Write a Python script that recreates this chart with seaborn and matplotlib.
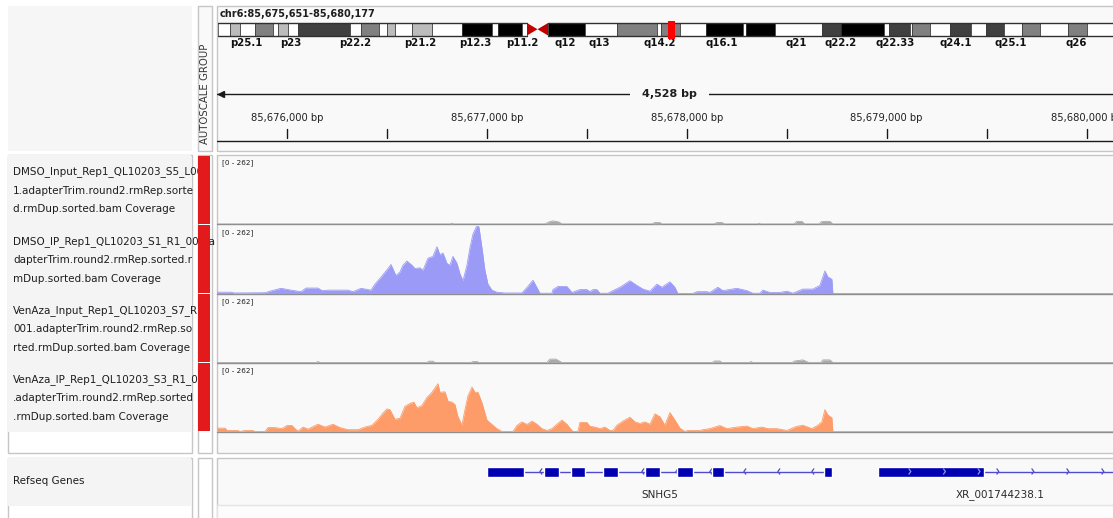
import numpy as np
import pandas as pd
import matplotlib
matplotlib.use("Agg")
import matplotlib.pyplot as plt
import seaborn as sns
from matplotlib.patches import Rectangle, Polygon

sns.set_theme(style="white")
plt.rcParams["font.family"] = ["DejaVu Sans"]

# ---------------- data ----------------
chrom_label = "chr6:85,675,651-85,680,177"
VIEW_START, VIEW_END = 85675651, 85680177
ruler_label = "4,528 bp"
CHROM_LEN_MB = 171.1

band_starts = [0, 2.27, 4.16, 6.99, 10.39, 11.34, 13.22, 15.11, 24.94, 27.02, 30.42, 31.93, 33.44,
               36.65, 40.43, 46.10, 51.77, 52.90, 57.43, 62.35, 69.34, 75.39, 82.94, 83.70,
               87.28, 92.20, 99.19, 99.75, 105.23, 114.11, 117.70, 125.83, 126.77, 130.74, 131.06,
               134.52, 138.30, 142.26, 145.10, 148.50, 151.90, 155.30, 160.59, 164.18]
band_ends = [2.27, 4.16, 6.99, 10.39, 11.34, 13.22, 15.11, 24.94, 27.02, 30.42, 31.93, 33.44, 36.65,
             40.43, 46.10, 51.77, 52.90, 57.43, 58.38, 69.34, 75.39, 82.94, 83.70, 87.28,
             92.20, 99.19, 99.75, 105.23, 114.11, 117.70, 125.83, 126.77, 130.74, 131.06, 134.52,
             138.30, 142.26, 145.10, 148.50, 151.90, 155.30, 160.59, 164.18, 171.10]
band_stains = ["gneg", "gpos25", "gneg", "gpos50", "gneg", "gpos25", "gneg", "gpos75", "gneg", "gpos50",
               "gneg", "gpos25", "gneg", "gpos25", "gneg", "gpos100", "gneg", "gpos100", "gneg",
               "gpos100", "gneg", "gpos50", "gneg", "gpos50", "gneg", "gpos100", "gneg", "gpos100",
               "gneg", "gpos75", "gpos100", "gneg", "gpos75", "gneg", "gpos50", "gneg", "gpos75",
               "gneg", "gpos75", "gneg", "gpos50", "gneg", "gpos50", "gneg"]
centromere_mb = [58.38, 60.36, 62.35]
band_label_names = ["p25.1", "p23", "p22.2", "p21.2", "p12.3", "p11.2", "q12", "q13", "q14.2",
                    "q16.1", "q21", "q22.2", "q22.33", "q24.1", "q25.1", "q26"]
band_label_mb = [5.29, 13.8, 25.9, 38.2, 48.6, 57.4, 65.6, 72.0, 83.4, 95.2, 109.2, 117.7,
                 127.9, 139.4, 149.8, 162.1]

track_names = [
    ["DMSO_Input_Rep1_QL10203_S5_L00", "1.adapterTrim.round2.rmRep.sorte", "d.rmDup.sorted.bam Coverage"],
    ["DMSO_IP_Rep1_QL10203_S1_R1_001.a", "dapterTrim.round2.rmRep.sorted.r", "mDup.sorted.bam Coverage"],
    ["VenAza_Input_Rep1_QL10203_S7_R1_", "001.adapterTrim.round2.rmRep.so", "rted.rmDup.sorted.bam Coverage"],
    ["VenAza_IP_Rep1_QL10203_S3_R1_001", ".adapterTrim.round2.rmRep.sorted", ".rmDup.sorted.bam Coverage"],
]
data_range_label = "[0 - 262]"
DATA_MAX = 262

dmso_input_pos = [85675651, 85676816, 85676826, 85676836, 85677291, 85677311, 85677331, 85677361,
                  85677376, 85677826, 85677841, 85677866, 85677876, 85678136, 85678151, 85678176,
                  85678191, 85678356, 85678361, 85678371, 85678536, 85678551, 85678576, 85678591,
                  85678661, 85678676, 85678716, 85678731, 85680177]
dmso_input_cov = [0, 0, 3, 0, 0, 8, 12, 8, 0, 0, 6, 6, 0, 0, 6, 6, 0, 0, 3, 0, 0, 10, 10, 0,
                  0, 10, 10, 0, 0]

dmso_ip_pos = [85675651, 85675721, 85675736, 85675891, 85675916, 85675971, 85676021, 85676071,
               85676096, 85676156, 85676176, 85676206, 85676306, 85676331, 85676371, 85676421,
               85676441, 85676471, 85676506, 85676521, 85676546, 85676566, 85676581, 85676601,
               85676626, 85676641, 85676666, 85676681, 85676706, 85676731, 85676751, 85676766,
               85676781, 85676801, 85676816, 85676831, 85676851, 85676866, 85676881, 85676901,
               85676916, 85676931, 85676951, 85676961, 85676976, 85676991, 85677006, 85677026,
               85677051, 85677091, 85677176, 85677201, 85677231, 85677251, 85677266, 85677326,
               85677331, 85677356, 85677401, 85677426, 85677466, 85677501, 85677516, 85677531,
               85677551, 85677566, 85677606, 85677631, 85677666, 85677716, 85677751, 85677781,
               85677816, 85677851, 85677876, 85677916, 85677941, 85677956, 85678031, 85678051,
               85678101, 85678116, 85678156, 85678181, 85678251, 85678301, 85678331, 85678366,
               85678381, 85678416, 85678466, 85678501, 85678531, 85678581, 85678631, 85678666,
               85678691, 85678706, 85678726, 85678731, 85680177]
dmso_ip_cov = [5, 5, 2, 3, 9, 20, 13, 7, 21, 21,
               11, 13, 13, 7, 20, 13, 36, 63, 96, 112,
               69, 83, 109, 125, 109, 96, 99, 89, 136, 143,
               180, 149, 156, 116, 109, 143, 116, 76, 49, 109,
               176, 229, 262, 256, 176, 89, 36, 13, 5, 2,
               2, 23, 51, 23, 1, 1, 15, 27, 27, 4,
               15, 15, 7, 15, 15, 1, 1, 11, 24, 49,
               31, 17, 9, 36, 24, 45, 24, 0, 0, 7,
               7, 4, 24, 11, 20, 11, 1, 1, 13, 4,
               4, 9, 1, 17, 17, 31, 87, 64, 55, 0,
               0]

venaza_input_pos = [85675651, 85676146, 85676156, 85676166, 85676701, 85676711, 85676731, 85676741,
                    85676921, 85676931, 85676951, 85676961, 85677301, 85677316, 85677346, 85677376,
                    85678126, 85678141, 85678166, 85678176, 85678316, 85678321, 85678331, 85678526,
                    85678541, 85678581, 85678611, 85678671, 85678681, 85678716, 85678731, 85680177]
venaza_input_cov = [0, 0, 4, 0, 0, 5, 5, 0, 0, 4, 4, 0, 0, 13, 13, 0, 0, 6, 6, 0, 0, 4, 0,
                    0, 6, 10, 0, 0, 10, 10, 0, 0]

venaza_ip_pos = [85675651, 85675691, 85675701, 85675756, 85675766, 85675791, 85675831, 85675841,
                 85675891, 85675906, 85675941, 85675976, 85676001, 85676026, 85676041, 85676056,
                 85676081, 85676106, 85676156, 85676191, 85676231, 85676266, 85676306, 85676356,
                 85676391, 85676426, 85676456, 85676481, 85676501, 85676516, 85676541, 85676566,
                 85676591, 85676616, 85676636, 85676651, 85676676, 85676701, 85676726, 85676756,
                 85676766, 85676791, 85676806, 85676826, 85676841, 85676856, 85676876, 85676891,
                 85676906, 85676926, 85676941, 85676956, 85676976, 85677001, 85677026, 85677051,
                 85677076, 85677131, 85677151, 85677176, 85677201, 85677226, 85677251, 85677276,
                 85677301, 85677326, 85677351, 85677376, 85677401, 85677426, 85677431, 85677456,
                 85677466, 85677501, 85677516, 85677541, 85677566, 85677591, 85677616, 85677631,
                 85677651, 85677681, 85677716, 85677741, 85677766, 85677791, 85677816, 85677841,
                 85677866, 85677891, 85677916, 85677941, 85677966, 85677991, 85678006, 85678066,
                 85678081, 85678116, 85678166, 85678201, 85678251, 85678301, 85678331, 85678376,
                 85678406, 85678451, 85678501, 85678551, 85678581, 85678626, 85678656, 85678676,
                 85678691, 85678706, 85678726, 85678731, 85680177]
venaza_ip_cov = [13, 13, 4, 4, 0, 4, 4, 0, 0, 15,
                 15, 11, 23, 23, 11, 1, 17, 9, 28, 17,
                 28, 15, 7, 7, 17, 24, 47, 71, 87, 84,
                 47, 51, 97, 108, 113, 91, 100, 131, 151, 184,
                 151, 153, 117, 113, 104, 57, 24, 84, 137, 171,
                 151, 151, 111, 44, 27, 11, 0, 0, 23, 37,
                 27, 40, 28, 11, 4, 11, 28, 44, 28, 4,
                 0, 0, 35, 35, 20, 17, 11, 17, 4, 4,
                 24, 40, 55, 37, 31, 37, 28, 68, 57, 24,
                 73, 44, 13, 0, 4, 4, 7, 11, 23, 11,
                 17, 21, 11, 17, 11, 11, 4, 20, 24, 11,
                 24, 37, 84, 64, 53, 0, 0]

track_pos = [dmso_input_pos, dmso_ip_pos, venaza_input_pos, venaza_ip_pos]
track_cov = [dmso_input_cov, dmso_ip_cov, venaza_input_cov, venaza_ip_cov]
track_colors = ["#a9a9a9", "#9b9bf7", "#a9a9a9", "#fd9c68"]

gene_track_name = "Refseq Genes"
snhg5_name = "SNHG5"
snhg5_exon_starts = [85677001, 85677286, 85677421, 85677581, 85677791, 85677951, 85678126, 85678686]
snhg5_exon_ends = [85677186, 85677361, 85677491, 85677656, 85677866, 85678031, 85678186, 85678726]
xr_name = "XR_001744238.1"
xr_exon_starts = [85678956]
xr_exon_ends = [85679486]
xr_tx_end = 85680600

# ---------------- layout helpers ----------------
W, H = 1113, 518
fig = plt.figure(figsize=(W / 100, H / 100), dpi=100)
fig.patch.set_facecolor("white")
BORDER = "#c6c6c6"
PANEL_BG = "#f9f9f9"
NAME_BG = "#f4f4f4"
TXT = "#1e1e1e"


def px_axes(x0, y0, x1, y1, z=0):
    ax = fig.add_axes([x0 / W, 1 - y1 / H, (x1 - x0) / W, (y1 - y0) / H])
    ax.set_zorder(z)
    ax.set_axis_off()
    ax.patch.set_alpha(0)
    return ax


def box(ax, x0, y0, x1, y1, fc, ec=BORDER, lw=1.0, z=1):
    ax.add_patch(Rectangle((x0, y0), x1 - x0, y1 - y0, facecolor=fc, edgecolor=ec, lw=lw, zorder=z))


bg = px_axes(0, 0, W, H)
bg.set_xlim(0, W)
bg.set_ylim(H, 0)

DX0, DX1 = 217, 1122  # data panel pixel span for the view

# header panels
box(bg, 7.5, 5.5, 191.5, 150.5, "#f6f6f6", ec="none")
box(bg, 197.5, 5.5, 211.5, 150.5, PANEL_BG)
box(bg, 216.5, 5.5, 1130, 150.5, PANEL_BG)
# track panels
box(bg, 7.5, 154.5, 191.5, 453, "white")
box(bg, 8, 155, 191, 431.5, NAME_BG, ec="none", z=2)
box(bg, 197.5, 154.5, 211.5, 453, "white")
box(bg, 216.5, 154.5, 1130, 453, PANEL_BG)
# gene panels
box(bg, 7.5, 457.5, 191.5, 525, "white")
box(bg, 8, 458, 191, 506, NAME_BG, ec="none", z=2)
box(bg, 197.5, 457.5, 211.5, 525, "white")
box(bg, 216.5, 457.5, 1130, 525, PANEL_BG)
box(bg, 217, 504.5, 1130, 525, "#fcfcfc", ec="#e4e4e4", z=2)

bg.text(220, 14, chrom_label, fontsize=7, fontweight="bold", va="center", ha="left", color=TXT, zorder=5)
bg.text(204.5, 94, "AUTOSCALE GROUP", rotation=90, fontsize=7.3, va="center", ha="center",
        color="#333333", zorder=5)
bg.text(13, 481, gene_track_name, fontsize=7.5, va="center", ha="left", color=TXT, zorder=5)

# ---------------- ideogram ----------------
mb_px = (671.5 - 218) / (VIEW_START / 1e6)
ideo = px_axes(218, 5, 218 + CHROM_LEN_MB * mb_px, 50, z=3)
ideo.set_xlim(0, CHROM_LEN_MB)
ideo.set_ylim(50, 5)
stain_col = {"gneg": "#ffffff", "gpos25": "#bcbcbc", "gpos50": "#808080",
             "gpos75": "#404040", "gpos100": "#000000"}
IY0, IH = 23, 12.5
for s, e, st in zip(band_starts, band_ends, band_stains):
    ideo.broken_barh([(s, e - s)], (IY0, IH), facecolors=stain_col[st], edgecolor="#303030", lw=0.5)
p_end, cen, q_start = centromere_mb
for a, b in [(0, p_end), (q_start, CHROM_LEN_MB)]:
    ideo.plot([a, b], [IY0, IY0], color="#303030", lw=1)
    ideo.plot([a, b], [IY0 + IH, IY0 + IH], color="#303030", lw=1)
ideo.add_patch(Polygon([(p_end, IY0), (p_end, IY0 + IH), (cen, IY0 + IH / 2)], closed=True,
                       facecolor="#c00000", edgecolor="none"))
ideo.add_patch(Polygon([(q_start, IY0), (q_start, IY0 + IH), (cen, IY0 + IH / 2)], closed=True,
                       facecolor="#c00000", edgecolor="none"))
view_mid_mb = (VIEW_START + VIEW_END) / 2e6
mw = 6.5 / mb_px
ideo.add_patch(Rectangle((view_mid_mb - mw / 2, 20.5), mw, 18.5, facecolor="#ff0000", edgecolor="none", zorder=5))
for name, mb in zip(band_label_names, band_label_mb):
    ideo.text(mb, 43.5, name, ha="center", va="center", fontsize=7.3, fontweight="bold", color="#111111")

# ---------------- ruler ----------------
ru = px_axes(DX0, 5, DX1, 150, z=3)
ru.set_xlim(VIEW_START, VIEW_END)
ru.set_ylim(150, 5)
ru.plot([VIEW_START, VIEW_END], [94, 94], color="#1a1a1a", lw=1)
ru.plot([VIEW_START + 22], [94], marker="<", ms=5, color="#1a1a1a", clip_on=False)
ru.plot([VIEW_END - 22], [94], marker=">", ms=5, color="#1a1a1a")
ru.text((VIEW_START + VIEW_END) / 2, 94, ruler_label, ha="center", va="center", fontsize=8,
        fontweight="bold", color=TXT, bbox=dict(facecolor=PANEL_BG, edgecolor="none", pad=9))
ticks = np.arange(85676000, VIEW_END + 1000, 500)
for t in ticks:
    ru.plot([t, t], [128.5, 137.5], color="#1a1a1a", lw=1)
    if t % 1000 == 0:
        ru.text(t, 118, f"{t:,} bp", ha="center", va="center", fontsize=7.2, color="#222222")
ru.plot([VIEW_START, VIEW_END + 2000], [140.5, 140.5], color="#1a1a1a", lw=1)

# ---------------- name panel text + attribute column ----------------
nm = px_axes(7, 154, 216, 453, z=2)
nm.set_xlim(7, 216)
nm.set_ylim(453, 154)
track_tops = [155, 224.5, 293.5, 362.5]
track_bottoms = [224, 293.5, 362.5, 431.5]
for names, top, bot in zip(track_names, track_tops, track_bottoms):
    for j, line in enumerate(names):
        nm.text(13, top + 17 + j * 18.7, line, fontsize=7.5, va="center", ha="left",
                color=TXT, clip_on=True)
    nm.add_patch(Rectangle((198, top + 0.5), 12, bot - top - 1, facecolor="#e31a1c",
                           edgecolor="none", zorder=6))

# ---------------- coverage tracks ----------------
for pos, cov, col, top, bot in zip(track_pos, track_cov, track_colors, track_tops, track_bottoms):
    bg.plot([216.5, 1130], [bot, bot], color="#8f8f8f", lw=1, zorder=3)
    bg.text(222, top + 8, data_range_label, fontsize=5.2, va="center", ha="left", color=TXT, zorder=5)
    ax = px_axes(DX0, bot - 68, DX1, bot, z=3)
    df = pd.DataFrame({"pos": pos, "cov": cov})
    sns.lineplot(data=df, x="pos", y="cov", ax=ax, color=col, lw=0.6, legend=False, estimator=None)
    ax.fill_between(df["pos"], df["cov"], 0, color=col, lw=0)
    ax.set_xlim(VIEW_START, VIEW_END)
    ax.set_ylim(0, DATA_MAX)
    ax.set_axis_off()

# ---------------- gene track ----------------
ge = px_axes(DX0, 458, DX1, 505, z=3)
ge.set_xlim(VIEW_START, VIEW_END)
ge.set_ylim(505, 458)
GY, EH = 471.5, 10
LINE_C, EXON_C = "#4c4ccc", "#0000b2"
bp_px = (VIEW_END - VIEW_START) / (DX1 - DX0)


def chevrons(positions, direction, color, z):
    dx = 2.2 * bp_px * direction
    for p in positions:
        ge.plot([p - dx, p, p - dx], [GY - 3, GY, GY + 3], color=color, lw=0.9, zorder=z,
                solid_capstyle="butt")


# SNHG5 (minus strand)
g0, g1 = min(snhg5_exon_starts), max(snhg5_exon_ends)
ge.plot([g0, g1], [GY, GY], color=LINE_C, lw=1, zorder=2)
chevrons(np.arange(g1 - 100, g0, -170), -1, LINE_C, 2)
ge.broken_barh([(s, e - s) for s, e in zip(snhg5_exon_starts, snhg5_exon_ends)], (GY - EH / 2, EH),
               facecolors=EXON_C, zorder=3)
ge.text((g0 + g1) / 2, 495, snhg5_name, ha="center", va="center", fontsize=7.5, color="#2a2a2a")

# XR_001744238.1 (plus strand)
x0 = min(xr_exon_starts)
ge.plot([x0, xr_tx_end], [GY, GY], color=LINE_C, lw=1, zorder=2)
ge.broken_barh([(s, e - s) for s, e in zip(xr_exon_starts, xr_exon_ends)], (GY - EH / 2, EH),
               facecolors=EXON_C, zorder=3)
for s, e in zip(xr_exon_starts, xr_exon_ends):
    chevrons(np.arange(s + 165, e, 173), 1, "#8f8fe6", 4)
chevrons(np.arange(max(xr_exon_ends) + 75, VIEW_END + 200, 175), 1, LINE_C, 2)
ge.text((x0 + VIEW_END) / 2, 495, xr_name, ha="center", va="center", fontsize=7.5, color="#2a2a2a")

fig.savefig("out.png", dpi=100, facecolor="white")
